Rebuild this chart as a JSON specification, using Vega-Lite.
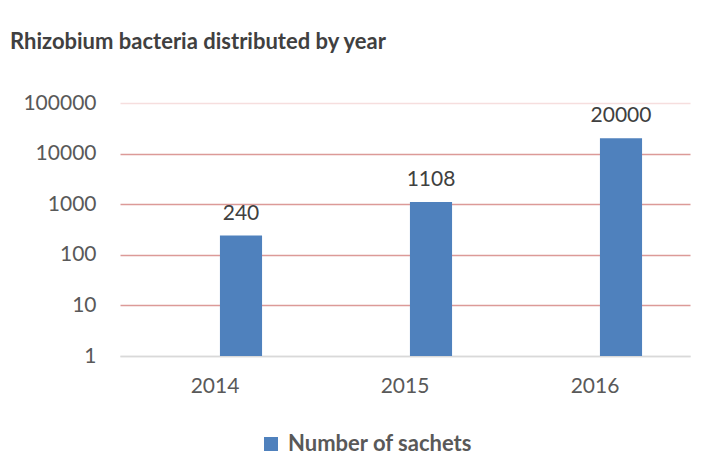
{
  "$schema": "https://vega.github.io/schema/vega-lite/v6.json",
  "width": 570,
  "height": 253,
  "autosize": "none",
  "padding": {"left": 120, "top": 103, "right": 23, "bottom": 116},
  "background": "white",
  "title": {
    "text": "Rhizobium bacteria distributed by year",
    "anchor": "start",
    "frame": "group",
    "dx": -110,
    "offset": 38,
    "font": "Lato",
    "fontSize": 22,
    "fontWeight": "bold",
    "color": "#404040"
  },
  "data": {
    "values": [
      {"year": "2014", "sachets": 240, "series": "Number of sachets"},
      {"year": "2015", "sachets": 1108, "series": "Number of sachets"},
      {"year": "2016", "sachets": 20000, "series": "Number of sachets"}
    ]
  },
  "encoding": {
    "x": {
      "field": "year",
      "type": "nominal",
      "scale": {"paddingInner": 0, "paddingOuter": 0},
      "axis": {
        "title": null,
        "labelAngle": 0,
        "ticks": false,
        "labelPadding": 19,
        "labelFont": "Lato",
        "labelFontSize": 21,
        "labelColor": "#595959",
        "domainColor": "#d9d9d9",
        "domainWidth": 1.5
      }
    },
    "xOffset": {
      "field": "series",
      "type": "nominal",
      "scale": {"domain": ["blank", "Number of sachets"], "paddingInner": 0.19, "paddingOuter": 0.922}
    },
    "y": {
      "field": "sachets",
      "type": "quantitative",
      "scale": {"type": "log", "domain": [1, 100000]},
      "axis": {
        "title": null,
        "values": [1, 10, 100, 1000, 10000, 100000],
        "format": "d",
        "ticks": false,
        "domain": false,
        "labelPadding": 24,
        "labelFont": "Lato",
        "labelFontSize": 21,
        "labelColor": "#595959",
        "gridWidth": 1.5,
        "gridColor": {
          "condition": [
            {"test": "datum.value >= 100000", "value": "#f6dede"},
            {"test": "datum.value <= 1", "value": "#d9d9d9"}
          ],
          "value": "#dc9a98"
        }
      }
    }
  },
  "layer": [
    {
      "mark": {"type": "bar", "color": "#4f81bd"},
      "encoding": {
        "y2": {"datum": 1},
        "color": {
          "field": "series",
          "type": "nominal",
          "scale": {"range": ["#4f81bd"]},
          "legend": {
            "title": null,
            "orient": "none",
            "legendX": 140,
            "legendY": 330,
            "symbolType": "square",
            "symbolSize": 196,
            "symbolStrokeWidth": 0,
            "labelFont": "Lato",
            "labelFontSize": 22,
            "labelFontWeight": "bold",
            "labelColor": "#595959",
            "labelOffset": 6,
            "labelLimit": 400
          }
        }
      }
    },
    {
      "mark": {"type": "text", "baseline": "alphabetic", "dy": -16, "font": "Lato", "fontSize": 21, "color": "#404040"},
      "encoding": {"text": {"field": "sachets", "type": "quantitative", "format": "d"}}
    }
  ],
  "config": {"view": {"stroke": null}}
}
